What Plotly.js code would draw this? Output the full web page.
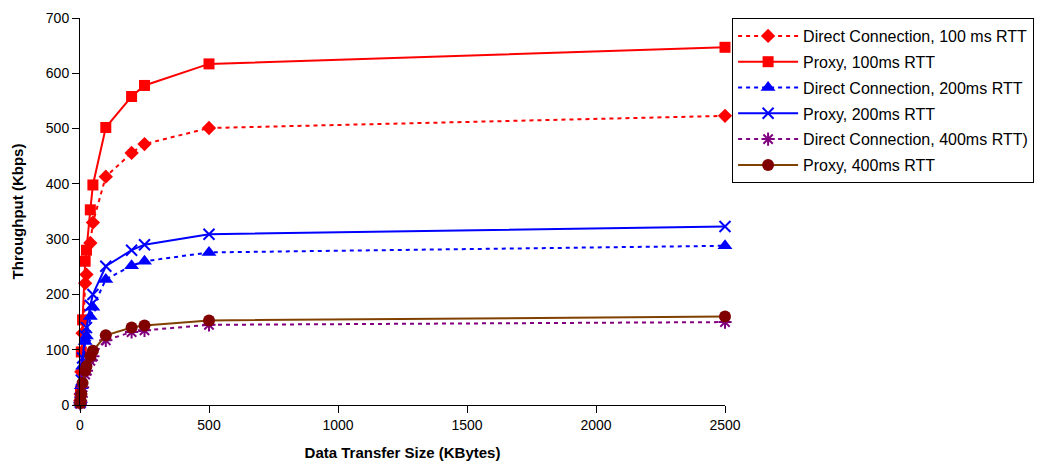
<!DOCTYPE html>
<html>
<head>
<meta charset="utf-8">
<script src="https://cdn.plot.ly/plotly-3.0.1.min.js"></script>
<style>html,body{margin:0;padding:0;background:#fff;}#chart{width:1041px;height:464px;}</style>
</head>
<body>
<div id="chart"></div>
<script>
const sizes = [1, 2, 5, 10, 20, 25, 40, 50, 100, 200, 250, 500, 2500];
const direct100 = [8, 20, 60, 130, 220, 236, 293, 330, 413, 456, 472, 501, 523];
const proxy100 = [10, 25, 96, 154, 260, 280, 353, 398, 502, 558, 578, 617, 647];
const direct200 = [4, 10, 35, 70, 115, 125, 160, 177, 227, 252, 260, 276, 288];
const proxy200 = [5, 12, 45, 85, 125, 140, 180, 200, 251, 280, 290, 309, 323];
const direct400 = [2, 6, 15, 32, 55, 62, 80, 88, 117, 132, 135, 145, 150];
const proxy400 = [3, 8, 20, 40, 62, 70, 88, 98, 126, 140, 144, 153, 160];
const seriesNames = ["Direct Connection, 100 ms RTT", "Proxy, 100ms RTT", "Direct Connection, 200ms RTT", "Proxy, 200ms RTT", "Direct Connection, 400ms RTT)", "Proxy, 400ms RTT"];

const dashStyle = "4px,4px";
const traces = [
  {y: direct100, name: seriesNames[0], line: {color: "#FF0000", width: 2, dash: dashStyle}, marker: {symbol: "diamond", size: 11, color: "#FF0000"}},
  {y: proxy100, name: seriesNames[1], line: {color: "#FF0000", width: 2}, marker: {symbol: "square", size: 11, color: "#FF0000"}},
  {y: direct200, name: seriesNames[2], line: {color: "#0000FF", width: 2, dash: dashStyle}, marker: {symbol: "triangle-up", size: 13, color: "#0000FF"}},
  {y: proxy200, name: seriesNames[3], line: {color: "#0000FF", width: 2}, marker: {symbol: "x-thin", size: 11, color: "#0000FF", line: {color: "#0000FF", width: 2}}},
  {y: direct400, name: seriesNames[4], line: {color: "#800080", width: 2, dash: dashStyle}, marker: {symbol: "asterisk", size: 11, color: "#800080", line: {color: "#800080", width: 2}}},
  {y: proxy400, name: seriesNames[5], line: {color: "#804000", width: 2}, marker: {symbol: "circle", size: 12, color: "#800000"}}
].map((t, i) => Object.assign({x: sizes, type: "scatter", mode: "lines+markers", cliponaxis: false, legendgroup: "g" + i}, t));

const layout = {
  width: 1041, height: 464,
  margin: {l: 80, r: 316, t: 18, b: 59, autoexpand: false},
  paper_bgcolor: "#fff", plot_bgcolor: "#fff",
  font: {family: "Liberation Sans, Arial, sans-serif", size: 14, color: "#000"},
  showlegend: true,
  legend: {x: 1.011, y: 1, xanchor: "left", yanchor: "top", bordercolor: "#000", borderwidth: 1, bgcolor: "#fff",
           font: {size: 16, color: "#000"}, tracegroupgap: 2, itemwidth: 60},
  xaxis: {range: [0, 2500], tickvals: [0, 500, 1000, 1500, 2000, 2500], showgrid: false, zeroline: false,
          showline: true, linecolor: "#000", linewidth: 1, ticks: "outside", ticklen: 7, tickcolor: "#000",
          title: {text: "Data Transfer Size (KBytes)", font: {size: 15, weight: "bold"}, standoff: 15}, automargin: false},
  yaxis: {range: [0, 700], dtick: 100, showgrid: false, zeroline: false,
          showline: true, linecolor: "#000", linewidth: 1, ticks: "outside", ticklen: 7, tickcolor: "#000",
          title: {text: "Throughput (Kbps)", font: {size: 15, weight: "bold"}, standoff: 18}, automargin: false}
};
Plotly.newPlot("chart", traces, layout, {displayModeBar: false, staticPlot: true});
</script>
</body>
</html>
